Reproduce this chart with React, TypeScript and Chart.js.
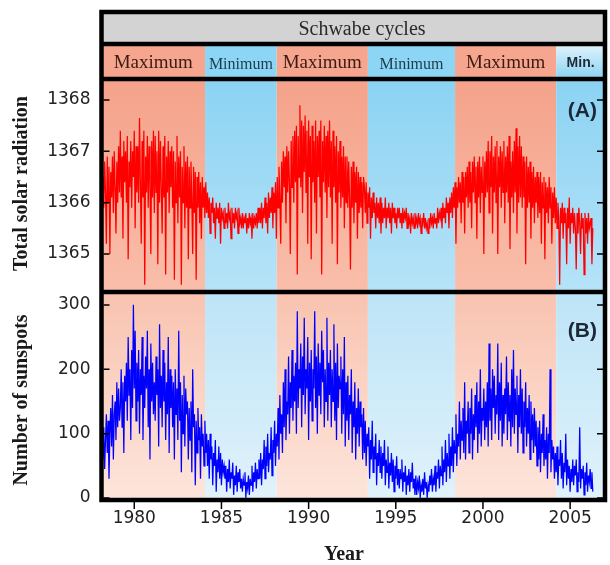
import React, { useEffect, useRef } from 'react';
import { Chart, registerables } from 'chart.js';
Chart.register(...registerables);

// ---- data (20 readings per year, starting 1978.2) ----
const sampleStart = 1978.2;
const samplesPerYear = 20;
const tsiValues = [
  1366.5,1365.9,1366.8,1366.2,1365.2,1366.9,1366.0,1366.7,1365.0,1366.6,1366.1,1366.9,1365.8,1367.0,1366.3,1365.4,1366.8,1366.0,1367.1,1366.2,
  1367.4,1366.1,1366.9,1365.3,1367.2,1366.4,1367.0,1366.0,1367.3,1364.9,1366.8,1366.3,1367.2,1365.9,1367.0,1366.5,1367.4,1365.5,1367.1,1366.2,
  1367.1,1366.0,1367.65,1366.4,1365.2,1367.2,1366.1,1367.4,1364.4,1366.9,1366.2,1367.3,1365.9,1367.1,1366.4,1365.0,1367.2,1366.1,1367.4,1365.8,
  1367.3,1366.2,1367.0,1364.8,1367.4,1366.0,1367.2,1366.3,1365.4,1367.1,1366.1,1367.3,1364.6,1366.9,1366.2,1367.2,1365.8,1367.0,1366.3,1367.1,
  1365.9,1367.0,1364.5,1366.8,1366.0,1367.3,1365.6,1366.9,1366.1,1367.0,1364.4,1366.7,1366.0,1367.1,1365.5,1366.8,1365.9,1366.9,1364.9,1366.7,
  1365.9,1366.8,1366.1,1365.0,1366.7,1365.8,1366.6,1364.5,1366.5,1365.9,1366.6,1365.6,1366.4,1365.3,1366.5,1365.9,1366.3,1365.7,1366.4,1365.8,
  1366.2,1365.7,1366.1,1365.4,1366.0,1365.8,1366.1,1365.6,1365.9,1365.3,1366.0,1365.7,1365.9,1365.6,1366.0,1365.2,1365.9,1365.7,1365.8,1365.5,
  1365.9,1365.6,1365.8,1365.5,1366.0,1365.7,1365.8,1365.3,1365.9,1365.6,1365.8,1365.5,1365.9,1365.7,1365.8,1365.4,1365.9,1365.6,1365.7,1365.5,
  1365.8,1365.5,1365.7,1365.6,1365.8,1365.4,1365.7,1365.5,1365.8,1365.6,1365.7,1365.3,1365.8,1365.5,1365.7,1365.6,1365.8,1365.5,1365.9,1365.6,
  1365.9,1365.6,1366.0,1365.5,1365.9,1365.7,1366.1,1365.6,1366.0,1365.4,1366.2,1365.7,1366.1,1365.8,1366.3,1365.5,1366.2,1365.8,1366.4,1365.3,
  1366.5,1365.9,1366.7,1366.1,1365.2,1366.8,1366.0,1367.0,1366.3,1366.9,1365.6,1367.1,1366.2,1367.0,1366.4,1365.0,1367.2,1366.3,1367.3,1366.0,
  1367.4,1366.4,1367.5,1364.6,1367.3,1366.5,1367.9,1366.3,1367.6,1365.8,1367.5,1366.6,1367.7,1366.2,1367.4,1365.2,1367.6,1366.5,1367.3,1364.9,
  1367.5,1366.4,1367.2,1366.0,1367.6,1365.4,1367.3,1366.5,1367.4,1366.1,1367.6,1364.6,1367.2,1366.4,1367.5,1366.2,1367.3,1365.7,1367.4,1366.3,
  1367.6,1366.1,1367.2,1365.2,1367.4,1366.3,1367.1,1366.0,1367.3,1364.8,1367.0,1366.2,1367.2,1365.9,1366.9,1366.1,1367.1,1365.5,1366.9,1366.0,
  1366.9,1365.9,1366.8,1366.1,1364.7,1366.7,1365.9,1366.8,1365.6,1366.6,1366.0,1366.7,1365.3,1366.6,1365.8,1366.5,1365.9,1366.4,1365.5,1366.5,
  1366.3,1365.8,1366.4,1365.6,1366.2,1365.9,1366.3,1365.3,1366.1,1365.7,1366.2,1365.8,1366.0,1365.5,1366.1,1365.7,1366.0,1365.6,1366.1,1365.4,
  1366.0,1365.6,1365.9,1365.7,1366.1,1365.5,1365.9,1365.7,1366.0,1365.6,1365.9,1365.4,1366.0,1365.7,1365.9,1365.6,1365.8,1365.5,1365.9,1365.7,
  1365.9,1365.6,1365.8,1365.5,1365.9,1365.6,1365.8,1365.7,1365.9,1365.5,1365.8,1365.6,1365.7,1365.4,1365.8,1365.6,1365.7,1365.5,1365.8,1365.6,
  1365.7,1365.5,1365.8,1365.6,1365.7,1365.4,1365.7,1365.6,1365.8,1365.5,1365.7,1365.5,1365.6,1365.4,1365.7,1365.5,1365.8,1365.6,1365.7,1365.5,
  1365.8,1365.6,1365.7,1365.5,1365.9,1365.6,1365.8,1365.7,1365.9,1365.5,1366.0,1365.7,1365.9,1365.6,1366.1,1365.8,1366.0,1365.5,1366.1,1365.8,
  1366.2,1365.7,1366.3,1365.9,1366.4,1365.2,1366.3,1365.9,1366.5,1366.0,1366.4,1365.6,1366.6,1366.0,1366.5,1365.4,1366.6,1366.1,1366.7,1365.9,
  1366.8,1366.0,1366.6,1365.5,1366.8,1366.2,1366.9,1366.0,1366.7,1365.3,1366.8,1366.1,1366.9,1365.8,1366.7,1366.2,1366.9,1365.0,1366.8,1366.1,
  1367.0,1366.2,1367.2,1365.8,1367.0,1366.3,1367.3,1365.4,1366.9,1366.2,1367.1,1366.0,1367.2,1365.0,1366.9,1366.3,1367.1,1365.9,1367.0,1366.2,
  1367.2,1365.6,1366.9,1366.2,1367.1,1366.0,1367.3,1365.1,1366.8,1366.1,1367.0,1365.8,1367.2,1366.2,1367.45,1365.4,1367.1,1366.0,1367.3,1366.1,
  1367.1,1365.9,1366.9,1366.1,1366.8,1364.8,1366.9,1365.9,1366.7,1366.0,1366.8,1365.3,1366.6,1365.9,1366.7,1365.6,1366.5,1366.0,1366.6,1365.7,
  1366.5,1365.8,1366.6,1365.2,1366.4,1365.9,1366.5,1364.9,1366.4,1365.8,1366.3,1365.6,1366.5,1365.9,1366.3,1365.2,1366.2,1365.7,1366.3,1365.6,
  1366.1,1365.5,1366.0,1365.7,1364.4,1365.9,1365.6,1366.0,1365.3,1365.9,1365.6,1365.8,1364.8,1365.9,1365.5,1366.1,1365.2,1365.8,1365.6,1365.9,
  1365.4,1365.8,1365.5,1364.7,1365.8,1365.4,1365.9,1365.6,1365.0,1365.8,1365.5,1365.7,1364.6,1365.8,1365.4,1365.7,1365.2,1365.8,1365.5,1365.6,
  1365.7,1364.8,1365.5,
];
const sunspotValues = [
  60,110,45,90,130,70,120,30,100,140,80,160,60,130,150,90,180,110,170,120,
  140,200,110,180,70,190,150,210,120,250,160,200,90,230,140,300,170,260,120,210,
  150,230,100,200,160,250,90,190,140,220,170,260,110,200,60,240,150,210,130,180,
  120,220,160,200,80,270,140,190,110,230,150,210,90,180,130,250,70,200,140,190,
  110,180,60,200,130,170,90,260,120,180,40,160,100,190,80,170,130,150,60,140,
  90,150,40,200,110,130,20,120,70,140,90,110,30,130,80,100,50,120,70,100,
  50,90,30,100,60,80,20,70,50,90,10,60,40,80,30,70,20,60,40,50,
  30,50,10,45,25,60,15,40,30,55,5,35,20,50,10,40,25,45,15,30,
  10,30,20,40,0,25,15,35,5,30,20,50,10,40,25,55,15,45,30,60,
  30,70,20,60,45,90,30,80,50,100,40,70,60,110,35,90,70,120,50,100,
  80,140,60,160,100,130,70,180,110,200,90,150,130,220,100,180,140,230,120,190,
  150,210,100,290,140,200,170,240,110,220,160,280,130,200,170,250,90,210,150,230,
  120,200,170,290,140,220,100,240,160,210,130,260,180,230,110,200,150,280,120,210,
  160,230,110,200,150,270,120,210,90,240,140,190,170,220,100,200,130,250,80,180,
  120,190,90,160,130,200,70,150,110,180,60,140,100,170,80,150,110,130,60,140,
  70,120,50,100,80,110,30,90,60,120,40,80,60,100,20,70,50,90,40,80,
  30,70,50,90,20,60,40,80,15,55,35,70,25,60,10,50,30,65,20,45,
  15,45,30,60,10,40,25,50,5,35,20,45,10,40,25,55,15,30,5,35,
  5,25,15,35,0,20,10,30,5,40,15,25,0,20,10,35,20,45,10,30,
  20,50,10,40,30,60,15,50,35,80,20,60,40,90,25,70,50,100,30,80,
  50,110,40,90,70,130,50,100,80,150,60,120,90,140,70,180,60,120,100,150,
  70,140,100,170,60,130,90,160,110,180,70,150,100,200,80,140,120,170,90,150,
  110,180,80,240,120,170,90,200,140,190,100,160,130,240,90,180,120,210,80,160,
  100,170,130,220,90,180,120,160,80,200,110,230,100,170,130,190,70,160,110,200,
  100,170,70,150,110,180,80,140,100,160,60,150,90,130,70,140,80,120,50,110,
  60,120,40,100,70,130,50,90,60,110,30,100,70,200,40,90,60,80,30,70,
  40,80,20,60,50,90,30,70,15,55,40,100,20,60,30,50,10,45,25,60,
  20,50,35,60,10,40,25,110,15,45,30,50,5,40,20,55,10,35,25,45,
  15,40,10,
];
const yearTicks = [1980, 1985, 1990, 1995, 2000, 2005];
const tsiTicks = [1365, 1366, 1367, 1368];
const sunspotTicks = [0, 100, 200, 300];
const phaseLabels = ['Maximum', 'Minimum', 'Maximum', 'Minimum', 'Maximum', 'Min.'];
const phaseKinds = ['max', 'min', 'max', 'min', 'max', 'min'];
const phaseEdges = [1978.1, 1984.06, 1988.17, 1993.4, 1998.4, 2004.2, 2007.0];
const headerTitle = 'Schwabe cycles';
const panelTags = ['(A)', '(B)'];
const yTitles = ['Total solar radiation', 'Number of sunspots'];
const xTitle = 'Year';

// ---- styles ----
const X_MIN = 1978.12;
const X_MAX = 2007.0;
const TSI_RANGE = [1364.26, 1368.41];
const SUN_RANGE = [-3, 320];
const HEADER_TOP = 12;
const HEADER_MID = 44;
const TICK_FONT = { family: 'DejaVu Sans', size: 17 };
const TICK_COLOR = '#222222';

const decor = {
  id: 'decor',
  beforeDatasetsDraw(chart: any) {
    const { ctx, chartArea: ca, scales } = chart;
    const xs = scales.x, ya = scales.yA, yb = scales.yB;
    ctx.save();
    for (let i = 0; i < phaseLabels.length; i++) {
      const x0 = Math.max(ca.left, xs.getPixelForValue(phaseEdges[i]));
      const x1 = Math.min(ca.right, xs.getPixelForValue(phaseEdges[i + 1]));
      const isMax = phaseKinds[i] === 'max';
      let g = ctx.createLinearGradient(0, ya.top, 0, ya.bottom);
      g.addColorStop(0, isMax ? '#F5A28A' : '#8BD3F3');
      g.addColorStop(1, isMax ? '#F9BEAA' : '#B6E3F8');
      ctx.fillStyle = g;
      ctx.fillRect(x0, ya.top, x1 - x0, ya.bottom - ya.top);
      g = ctx.createLinearGradient(0, yb.top, 0, yb.bottom);
      g.addColorStop(0, isMax ? '#F9C3B0' : '#BDE4F7');
      g.addColorStop(1, isMax ? '#FDE5DB' : '#E1F2FB');
      ctx.fillStyle = g;
      ctx.fillRect(x0, yb.top, x1 - x0, yb.bottom - yb.top);
    }
    ctx.restore();
  },
  afterDatasetsDraw(chart: any) {
    const { ctx, chartArea: ca, scales } = chart;
    const xs = scales.x, ya = scales.yA, yb = scales.yB;
    ctx.save();
    // header
    ctx.fillStyle = '#D3D3D3';
    ctx.fillRect(ca.left, HEADER_TOP, ca.right - ca.left, HEADER_MID - HEADER_TOP);
    for (let i = 0; i < phaseLabels.length; i++) {
      const x0 = Math.max(ca.left, xs.getPixelForValue(phaseEdges[i]));
      const x1 = Math.min(ca.right, xs.getPixelForValue(phaseEdges[i + 1]));
      const isMax = phaseKinds[i] === 'max';
      const last = i === phaseLabels.length - 1;
      if (last) {
        const g = ctx.createLinearGradient(0, HEADER_MID, 0, ca.top);
        g.addColorStop(0, '#E2F4FC');
        g.addColorStop(1, '#8AD2F3');
        ctx.fillStyle = g;
      } else {
        ctx.fillStyle = isMax ? '#F6A58E' : '#8DD5F5';
      }
      ctx.fillRect(x0, HEADER_MID, x1 - x0, ca.top - HEADER_MID);
      const cx = (x0 + x1) / 2;
      ctx.textAlign = 'center';
      ctx.textBaseline = 'alphabetic';
      if (last) {
        ctx.font = 'bold 14px "Liberation Sans"';
        ctx.fillStyle = '#1c2a38';
        ctx.fillText(phaseLabels[i], cx, 67);
      } else if (isMax) {
        ctx.font = '19px "Liberation Serif"';
        ctx.fillStyle = '#3a1c12';
        ctx.fillText(phaseLabels[i], cx, 68);
      } else {
        ctx.font = '16px "Liberation Serif"';
        ctx.fillStyle = '#1b3b4b';
        ctx.fillText(phaseLabels[i], cx, 69);
      }
    }
    ctx.font = '20px "Liberation Serif"';
    ctx.fillStyle = '#2a2a2a';
    ctx.textAlign = 'center';
    ctx.fillText(headerTitle, 362, 35);

    // frames
    ctx.strokeStyle = '#000';
    ctx.lineWidth = 4.5;
    ctx.strokeRect(ca.left, HEADER_TOP, ca.right - ca.left, ca.bottom - HEADER_TOP);
    const hline = (y: number) => {
      ctx.beginPath();
      ctx.moveTo(ca.left, y);
      ctx.lineTo(ca.right, y);
      ctx.stroke();
    };
    hline(HEADER_MID);
    hline(ca.top);
    hline(ya.bottom);

    // tick marks
    ctx.lineWidth = 1.5;
    for (const [sc, vals] of [[ya, tsiTicks], [yb, sunspotTicks]] as any) {
      for (const v of vals) {
        const y = sc.getPixelForValue(v);
        ctx.beginPath();
        ctx.moveTo(ca.left + 2, y);
        ctx.lineTo(ca.left + 8, y);
        ctx.moveTo(ca.right - 2, y);
        ctx.lineTo(ca.right - 8, y);
        ctx.stroke();
      }
    }
    for (const v of yearTicks) {
      const x = xs.getPixelForValue(v);
      ctx.beginPath();
      ctx.moveTo(x, ca.bottom + 2);
      ctx.lineTo(x, ca.bottom + 9);
      ctx.stroke();
    }

    // panel tags
    ctx.font = 'bold 21px "Liberation Sans"';
    ctx.fillStyle = '#1b2838';
    ctx.textAlign = 'right';
    ctx.textBaseline = 'middle';
    ctx.fillText(panelTags[0], ca.right - 8, ya.top + 32);
    ctx.fillText(panelTags[1], ca.right - 8, yb.top + 39);

    // axis titles
    ctx.font = 'bold 20px "Liberation Serif"';
    ctx.fillStyle = '#1a1a1a';
    ctx.textAlign = 'center';
    const vtitle = (t: string, y: number) => {
      ctx.save();
      ctx.translate(22, y);
      ctx.rotate(-Math.PI / 2);
      ctx.fillText(t, 0, 0);
      ctx.restore();
    };
    vtitle(yTitles[0], (ya.top + ya.bottom) / 2 - 2);
    vtitle(yTitles[1], (yb.top + yb.bottom) / 2 + 4);
    ctx.fillText(xTitle, 344, 555);
    ctx.restore();
  },
};

function makePoints(values: number[]) {
  return values.map((v, i) => ({ x: sampleStart + i / samplesPerYear, y: v }));
}

export default function App() {
  const ref = useRef<HTMLCanvasElement | null>(null);
  useEffect(() => {
    if (!ref.current) return;
    const yAxis = (range: number[], ticks: number[], weight: number) => ({
      type: 'linear',
      position: 'left',
      stack: 'panels',
      stackWeight: weight,
      min: range[0],
      max: range[1],
      afterFit: (s: any) => { s.width = 101.5; },
      afterBuildTicks: (s: any) => { s.ticks = ticks.map((v) => ({ value: v })); },
      grid: { display: false, drawTicks: false },
      border: { display: false },
      ticks: { padding: 11, font: TICK_FONT, color: TICK_COLOR, callback: (v: any) => String(v) },
    });
    const chart = new Chart(ref.current, {
      type: 'line',
      data: {
        datasets: [
          {
            label: 'Total solar radiation',
            data: makePoints(tsiValues),
            yAxisID: 'yA',
            borderColor: '#FF0000',
            borderWidth: 1.25,
            pointRadius: 0,
            tension: 0,
          },
          {
            label: 'Number of sunspots',
            data: makePoints(sunspotValues),
            yAxisID: 'yB',
            borderColor: '#0000FF',
            borderWidth: 1.25,
            pointRadius: 0,
            tension: 0,
          },
        ],
      },
      options: {
        responsive: false,
        animation: false,
        devicePixelRatio: 1,
        layout: { padding: { top: 79, right: 5, left: 0, bottom: 0 } },
        plugins: { legend: { display: false }, tooltip: { enabled: false } },
        scales: {
          x: {
            type: 'linear',
            position: 'bottom',
            min: X_MIN,
            max: X_MAX,
            afterFit: (s: any) => { s.height = 65; },
            afterBuildTicks: (s: any) => { s.ticks = yearTicks.map((v) => ({ value: v })); },
            grid: { display: false, drawTicks: false },
            border: { display: false },
            ticks: { padding: 8, font: TICK_FONT, color: TICK_COLOR, maxRotation: 0, autoSkip: false, callback: (v: any) => String(v) },
          },
          yB: yAxis(SUN_RANGE, sunspotTicks, 208),
          yA: yAxis(TSI_RANGE, tsiTicks, 213),
        } as any,
      },
      plugins: [decor],
    } as any);
    return () => chart.destroy();
  }, []);
  return (
    <div style={{ position: 'fixed', left: 0, top: 0, width: 610, height: 565, background: '#fff' }}>
      <canvas ref={ref} width={610} height={565} style={{ display: 'block' }} />
    </div>
  );
}
